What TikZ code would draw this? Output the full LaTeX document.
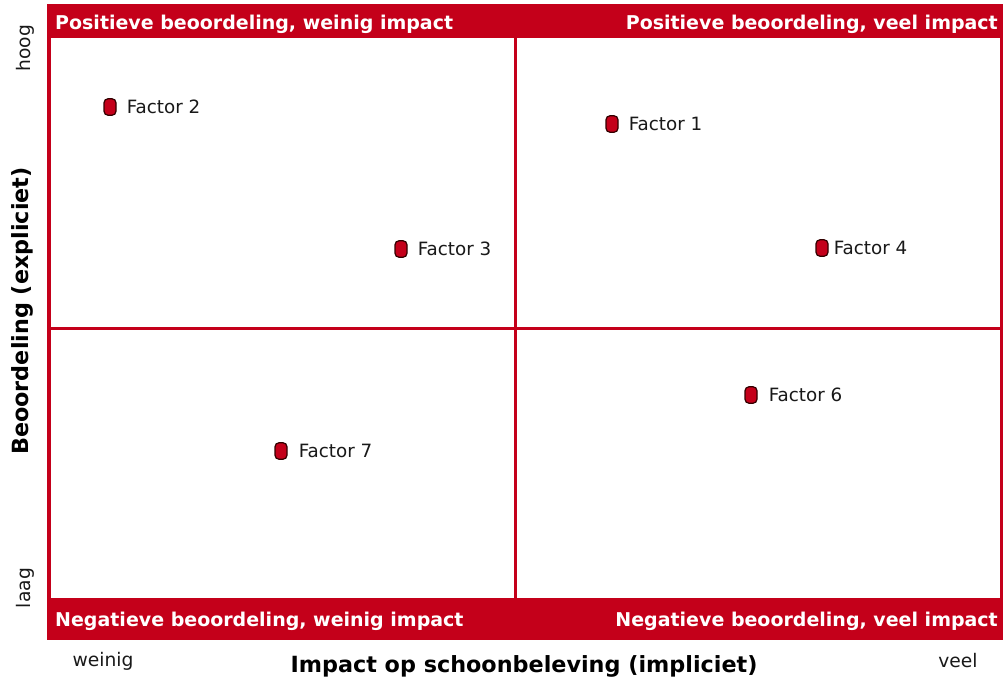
\documentclass[tikz,border=0pt]{standalone}
\usepackage{fontspec}
\setmainfont{DejaVu Sans}
\definecolor{qred}{RGB}{196,0,26}
\definecolor{qdark}{RGB}{50,0,0}
\begin{document}
\begin{tikzpicture}[x=1pt,y=-1pt,
  marker/.style={rectangle, rounded corners=4pt, fill=qred, draw=qdark, line width=1.2pt, minimum width=12pt, minimum height=16.5pt, inner sep=0pt},
  flabel/.style={anchor=west, inner sep=0pt, font=\fontsize{18.3}{22}\selectfont, text=black!90},
  bartext/.style={inner sep=0pt, font=\fontsize{19}{23}\selectfont\bfseries, text=white},
  axtitle/.style={inner sep=0pt, font=\fontsize{22.3}{26}\selectfont\bfseries, text=black},
  axtick/.style={inner sep=0pt, font=\fontsize{18.7}{22}\selectfont, text=black!90},
  divider/.style={draw=qred, line width=3pt}
]
\useasboundingbox (0,0) rectangle (1003,680);
% frame and bars
\fill[qred] (47,4) rectangle (1003,640);
\fill[white] (51,38) rectangle (1000,598);
% dividers
\coordinate (vtop) at (515,38);
\coordinate (vbot) at (515,598);
\coordinate (hl) at (51,328);
\coordinate (hr) at (1000,328);
\draw[divider] (vtop) -- (vbot);
\draw[divider] (hl) -- (hr);
% bar texts
\node[bartext, anchor=base west] (tl) at (55,29) {Positieve beoordeling, weinig impact};
\node[bartext, anchor=base east] (tr) at (998,29) {Positieve beoordeling, veel impact};
\node[bartext, anchor=base west] (bl) at (55,626) {Negatieve beoordeling, weinig impact};
\node[bartext, anchor=base east] (br) at (998,626) {Negatieve beoordeling, veel impact};
% axis labels
\node[axtick, rotate=90] (hoog) at (25,48) {hoog};
\node[axtick, rotate=90] (laag) at (25,588) {laag};
\node[axtitle, rotate=90] (ytitle) at (22,311) {Beoordeling (expliciet)};
\node[axtick] (weinig) at (103,661) {weinig};
\node[axtick] (veel) at (958,661) {veel};
\node[axtitle] (xtitle) at (524,666) {Impact op schoonbeleving (impliciet)};
% factors
\node[marker] (f2) at (110,107) {};
\node[flabel] (f2l) at ([xshift=10pt]f2.east) {Factor 2};
\node[marker] (f1) at (612,124) {};
\node[flabel] (f1l) at ([xshift=10pt]f1.east) {Factor 1};
\node[marker] (f3) at (401,249) {};
\node[flabel] (f3l) at ([xshift=10pt]f3.east) {Factor 3};
\node[marker] (f4) at (822,248) {};
\node[flabel] (f4l) at ([xshift=5pt]f4.east) {Factor 4};
\node[marker] (f6) at (751,395) {};
\node[flabel] (f6l) at ([xshift=11pt]f6.east) {Factor 6};
\node[marker] (f7) at (281,451) {};
\node[flabel] (f7l) at ([xshift=11pt]f7.east) {Factor 7};
\end{tikzpicture}
\end{document}
